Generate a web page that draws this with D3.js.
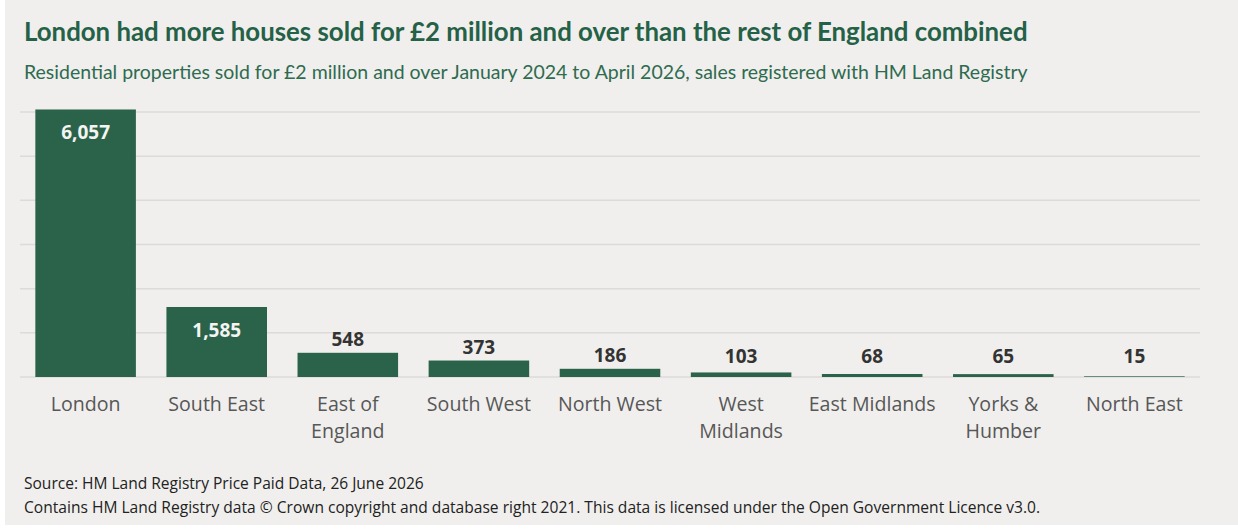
<!DOCTYPE html>
<html>
<head>
<meta charset="utf-8">
<script src="https://cdn.jsdelivr.net/npm/d3@7"></script>
<style>
  body { margin: 0; background: #fff; }
  #chart { width: 1238px; height: 532px; }
</style>
</head>
<body>
<div id="chart"></div>
<script>
// data
const regions = ["London", "South East", "East of England", "South West", "North West",
                 "West Midlands", "East Midlands", "Yorks & Humber", "North East"]
const labelLines = [["London"], ["South East"], ["East of", "England"], ["South West"], ["North West"],
                    ["West", "Midlands"], ["East Midlands"], ["Yorks &", "Humber"], ["North East"]]
const sales = [6057, 1585, 548, 373, 186, 103, 68, 65, 15]
const gridTicks = [0, 1000, 2000, 3000, 4000, 5000, 6000]

const title = "London had more houses sold for £2 million and over than the rest of England combined"
const subtitle = "Residential properties sold for £2 million and over January 2024 to April 2026, sales registered with HM Land Registry"
const notes = ["Source: HM Land Registry Price Paid Data, 26 June 2026",
  "Contains HM Land Registry data © Crown copyright and database right 2021. This data is licensed under the Open Government Licence v3.0."]

/* ____________ set-up ____________ */
const W = 1238, H = 532
const green = "#2a6349"

const svg = d3.select("#chart").append("svg")
    .attr("width", W)
    .attr("height", H)

// grey panel
svg.append("rect")
    .attr("x", 5).attr("y", 0)
    .attr("width", W - 5).attr("height", 525)
    .attr("fill", "#f0efed")

// fits a text element to a target width by scaling the font size
function fitWidth(sel, target) {
  const fs = parseFloat(sel.attr("font-size"))
  const w = sel.node().getComputedTextLength()
  sel.attr("font-size", (fs * target / w).toFixed(2))
}

const t = svg.append("text")
    .attr("x", 24).attr("y", 41)
    .attr("font-family", "Lato, 'Noto Sans', sans-serif")
    .attr("font-weight", "bold")
    .attr("font-size", 24)
    .attr("fill", "#246147")
    .text(title)
fitWidth(t, 1004)

const st = svg.append("text")
    .attr("x", 24).attr("y", 79)
    .attr("font-family", "Lato, 'Noto Sans', sans-serif")
    .attr("font-size", 18)
    .attr("fill", "#2e6b4f")
    .text(subtitle)
fitWidth(st, 1004)

/* ____________ scales ____________ */
const x = d3.scaleBand()
    .domain(regions)
    .range([20, 1200])
    .paddingInner(0.233)
    .paddingOuter(0.117)

const y = d3.scaleLinear()
    .domain([0, 6000])
    .range([377, 112])

// gridlines
svg.append("g")
    .selectAll("line")
    .data(gridTicks)
    .enter().append("line")
    .attr("x1", 20).attr("x2", 1200)
    .attr("y1", d => y(d)).attr("y2", d => y(d))
    .attr("stroke", "#dcdbd9")
    .attr("stroke-width", 1.5)

// bars
svg.append("g")
    .selectAll("rect")
    .data(sales)
    .enter().append("rect")
    .attr("x", (d, i) => x(regions[i]))
    .attr("width", x.bandwidth())
    .attr("y", d => y(d))
    .attr("height", d => y(0) - y(d))
    .attr("fill", green)

// value labels - inside the tall bars, above the short ones
svg.append("g")
    .selectAll("text")
    .data(sales)
    .enter().append("text")
    .attr("x", (d, i) => x(regions[i]) + x.bandwidth() / 2)
    .attr("y", d => {
      const top = y(d)
      if (y(0) - top > 50) return top + 30
      return Math.min(top - 7, 363)
    })
    .attr("text-anchor", "middle")
    .attr("font-family", "'Open Sans', sans-serif")
    .attr("font-weight", "bold")
    .attr("font-size", 19)
    .attr("fill", d => (y(0) - y(d) > 50) ? "#f4f4f2" : "#333")
    .text(d => d3.format(",")(d))

// category labels
const cats = svg.append("g")
    .selectAll("text")
    .data(labelLines)
    .enter().append("text")
    .attr("x", (d, i) => x(regions[i]) + x.bandwidth() / 2)
    .attr("y", 411)
    .attr("text-anchor", "middle")
    .attr("font-family", "'Open Sans', sans-serif")
    .attr("font-size", 19.6)
    .attr("fill", "#575757")

cats.selectAll("tspan")
    .data(d => d)
    .enter().append("tspan")
    .attr("x", function () { return d3.select(this.parentNode).attr("x") })
    .attr("dy", (d, i) => i === 0 ? 0 : 26.5)
    .text(d => d)

// footnotes
const noteWidths = [400, 1016]
notes.forEach((n, i) => {
  const ft = svg.append("text")
      .attr("x", 24).attr("y", 489 + i * 24)
      .attr("font-family", "'Open Sans', sans-serif")
      .attr("font-size", 15)
      .attr("fill", "#222")
      .text(n)
  fitWidth(ft, noteWidths[i])
})
</script>
</body>
</html>
